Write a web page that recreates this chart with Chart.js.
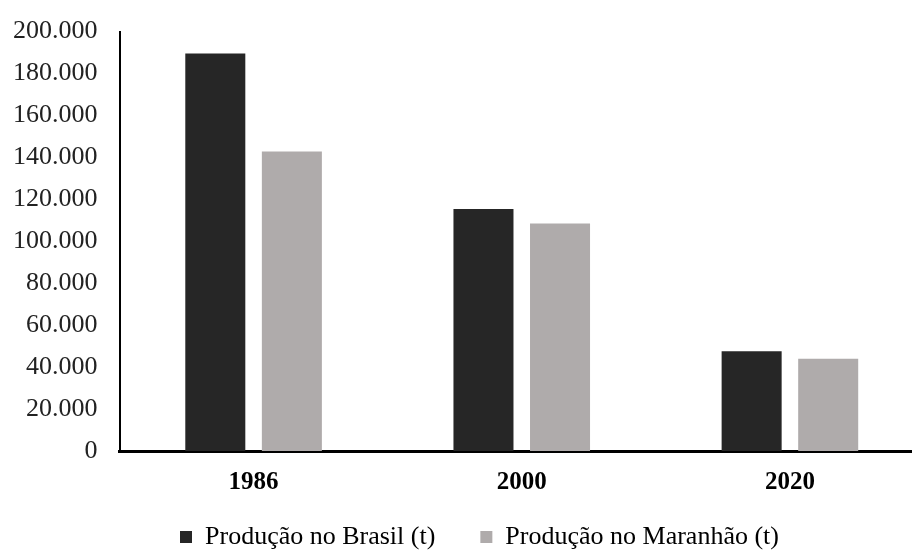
<!DOCTYPE html>
<html>
<head>
<meta charset="utf-8">
<script src="https://cdn.jsdelivr.net/npm/chart.js@4"></script>
<style>
    html, body { margin: 0; padding: 0; background: #fff; overflow: hidden; }
    #wrap { width: 924px; height: 556px; margin-top: -6px; }
</style>
</head>
<body>
<div id="wrap"><canvas id="producao"></canvas></div>
<script>
// dados
const anos = ['1986', '2000', '2020'];
const brasil = [189500, 115400, 47600];
const maranhao = [142800, 108500, 44000];
const serieNomes = ['Produção no Brasil (t)', 'Produção no Maranhão (t)'];
const yMax = 200000;
const yStep = 20000;

const fmt = (v) => String(v).replace(/\B(?=(\d{3})+(?!\d))/g, '.');

// ajusta a posição da legenda para ficar como no original
// (só o topo sobe, o fundo fica onde está para não cortar o texto)
const legendShift = {
    id: 'legendShift',
    afterLayout(chart) {
        const l = chart.legend;
        if (!l) return;
        l.left += 22;
        l.right += 22;
        l.top -= 36;
    }
};

new Chart(document.getElementById('producao'), {
    type: 'bar',
    data: {
        labels: anos,
        datasets: [
            {label: serieNomes[0], data: brasil, backgroundColor: '#262626'},
            {label: serieNomes[1], data: maranhao, backgroundColor: '#afabab'}
        ]
    },
    options: {
        responsive: true,
        maintainAspectRatio: false,
        animation: false,
        layout: {padding: {left: -9, right: 0, top: 12, bottom: 0}},
        datasets: {
            bar: {categoryPercentage: 0.571, barPercentage: 0.784}
        },
        scales: {
            x: {
                grid: {display: false, drawTicks: false},
                border: {display: true, color: '#000', width: 3},
                ticks: {
                    color: '#000',
                    padding: 17,
                    font: {family: 'Liberation Serif', size: 25, weight: 'bold'}
                }
            },
            y: {
                min: 0,
                max: yMax,
                grid: {display: false, drawTicks: false},
                border: {display: true, color: '#000', width: 2},
                ticks: {
                    stepSize: yStep,
                    color: '#222',
                    padding: 22,
                    font: {family: 'Liberation Serif', size: 26},
                    callback: (v) => fmt(v)
                }
            }
        },
        plugins: {
            legend: {
                position: 'bottom',
                maxHeight: 35,
                labels: {
                    color: '#000',
                    boxWidth: 12,
                    boxHeight: 12,
                    padding: 45,
                    font: {family: 'Liberation Serif', size: 26}
                }
            },
            tooltip: {enabled: false}
        }
    },
    plugins: [legendShift]
});
</script>
</body>
</html>
